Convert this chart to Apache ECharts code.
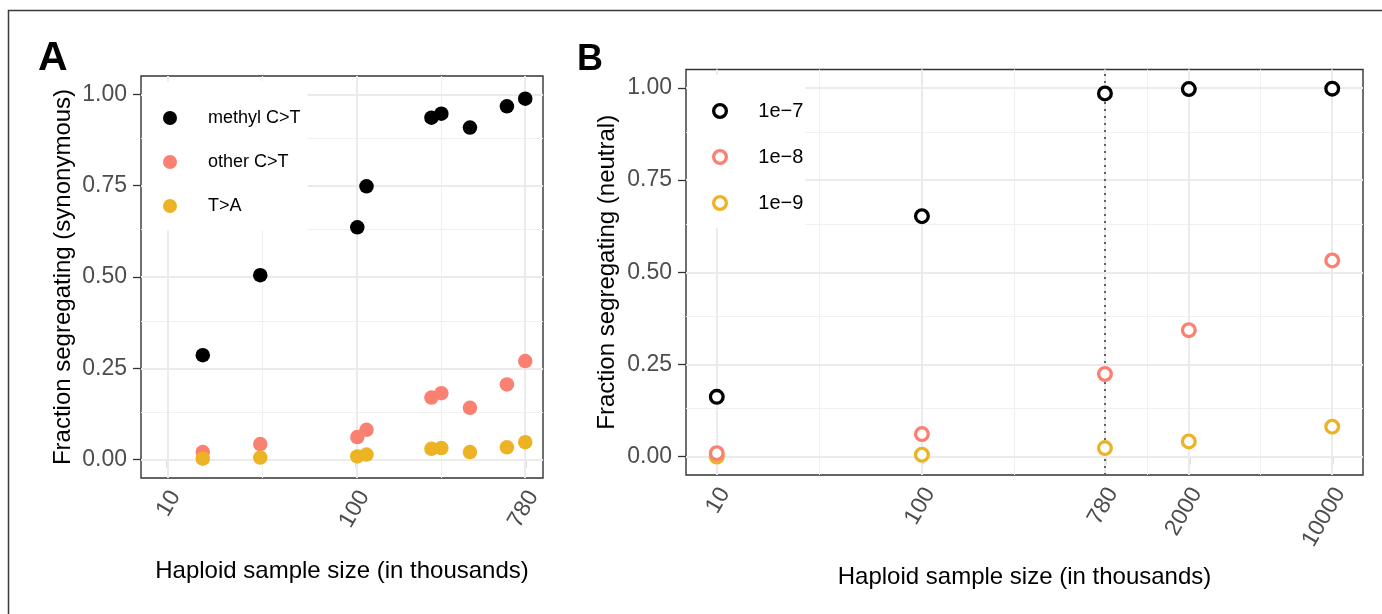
<!doctype html>
<html>
<head>
    <meta charset="utf-8">
    <title>Fraction segregating vs haploid sample size</title>
    <style>
        html, body {
            margin: 0;
            padding: 0;
            background: #fff;
        }
        #main {
            width: 1382px;
            height: 614px;
        }
    </style>
</head>
<body>
<div id="main"></div>
<script type="text/javascript" src="https://cdn.jsdelivr.net/npm/echarts@6/dist/echarts.min.js"></script>
<script type="text/javascript">
    // panel A: synonymous sites, sample size in thousands
    var sizesA   = [15.4, 31, 101, 113, 249, 281, 398, 624, 780];
    var methylCT = [0.286, 0.505, 0.636, 0.748, 0.936, 0.947, 0.909, 0.967, 0.988];
    var otherCT  = [0.021, 0.043, 0.062, 0.082, 0.170, 0.182, 0.142, 0.206, 0.270];
    var tToA     = [0.003, 0.006, 0.009, 0.014, 0.030, 0.032, 0.021, 0.034, 0.048];

    // panel B: neutral sites, by mutation rate
    var sizesB = [10, 100, 780, 2000, 10000];
    var mu7    = [0.162, 0.652, 0.985, 0.997, 0.998];
    var mu8    = [0.009, 0.061, 0.224, 0.343, 0.532];
    var mu9    = [0.000, 0.005, 0.023, 0.041, 0.081];

    var xTicksA = [10, 100, 780];
    var xTicksB = [10, 100, 780, 2000, 10000];
    var yTicks  = [0, 0.25, 0.5, 0.75, 1];
    var refSize = 780;   // dotted line in B

    var FONT = '"Liberation Sans", Arial, Helvetica, sans-serif';
    var C_BLACK = '#000000', C_SALMON = '#FA8072', C_GOLD = '#ECB324';

    var log10 = function (v) { return Math.log10(v); };

    // ggplot-like minor breaks: midpoints between majors
    function mids(arr) {
        var out = [];
        for (var i = 1; i < arr.length; i++) out.push((arr[i - 1] + arr[i]) / 2);
        return out;
    }

    function gridLines(xMajor, yMajor) {
        var lines = [];
        var major = {color: '#EBEBEB', width: 2, type: 'solid'};
        var minor = {color: '#F0F0F0', width: 1, type: 'solid'};
        mids(yMajor).forEach(function (v) { lines.push({yAxis: v, lineStyle: minor}); });
        mids(xMajor).forEach(function (v) { lines.push({xAxis: v, lineStyle: minor}); });
        yMajor.forEach(function (v) { lines.push({yAxis: v, lineStyle: major}); });
        xMajor.forEach(function (v) { lines.push({xAxis: v, lineStyle: major}); });
        return lines;
    }

    function pts(xs, ys) {
        return xs.map(function (x, i) { return [log10(x), ys[i]]; });
    }

    function xAxisCfg(idx, ticks, min, max, gap) {
        var vals = ticks.map(log10);
        return {
            gridIndex: idx, type: 'value', min: min, max: max,
            axisLine: {show: false},
            splitLine: {show: false},
            axisTick: {show: true, length: 8, customValues: vals,
                lineStyle: {color: '#333', width: 1.3}},
            axisLabel: {
                customValues: vals, rotate: 60, margin: 10,
                verticalAlign: 'top', lineHeight: 18,
                fontSize: 23, color: '#4d4d4d', fontFamily: FONT,
                formatter: function (v) { return String(Math.round(Math.pow(10, v))); }
            },
            name: 'Haploid sample size (in thousands)',
            nameLocation: 'middle', nameGap: gap,
            nameTextStyle: {fontSize: 24, color: '#000', fontFamily: FONT}
        };
    }

    function yAxisCfg(idx, name, gap) {
        return {
            gridIndex: idx, type: 'value', min: -0.05, max: 1.05,
            axisLine: {show: false},
            splitLine: {show: false},
            axisTick: {show: true, length: 8, customValues: yTicks,
                lineStyle: {color: '#333', width: 1.3}},
            axisLabel: {
                customValues: yTicks, margin: 14,
                fontSize: 23, color: '#4d4d4d', fontFamily: FONT,
                formatter: function (v) { return v.toFixed(2); }
            },
            name: name, nameLocation: 'middle', nameGap: gap, nameRotate: 90,
            nameTextStyle: {fontSize: 24, color: '#000', fontFamily: FONT}
        };
    }

    function ringSeries(name, color, ys, z) {
        return {
            name: name, type: 'scatter', xAxisIndex: 1, yAxisIndex: 1, z: z,
            symbol: 'circle', symbolSize: 12.7,
            itemStyle: {color: '#fff', borderColor: color, borderWidth: 3.3, opacity: 1},
            data: pts(sizesB, ys)
        };
    }

    var xA = xTicksA.map(log10), xB = xTicksB.map(log10);

    var chart = echarts.init(document.getElementById('main'));
    var option = {
        animation: false,
        backgroundColor: '#fff',
        textStyle: {fontFamily: FONT},
        graphic: [
            {type: 'rect', silent: true, z: 0,
                shape: {x: 8.5, y: 10.5, width: 2000, height: 2000},
                style: {fill: 'none', stroke: '#3a3a3a', lineWidth: 1.5}},
            {type: 'text', left: 38, top: 38,
                style: {text: 'A', fill: '#000', font: 'bold 41px ' + FONT}},
            {type: 'text', left: 577, top: 42,
                style: {text: 'B', fill: '#000', font: 'bold 36px ' + FONT}}
        ],
        grid: [
            {left: 141, top: 76, width: 402, height: 402,
                show: true, borderColor: '#333', borderWidth: 1.4, backgroundColor: '#fff'},
            {left: 686, top: 69.5, width: 677, height: 405.5,
                show: true, borderColor: '#333', borderWidth: 1.4, backgroundColor: '#fff'}
        ],
        xAxis: [
            xAxisCfg(0, xTicksA, 0.861, 2.986, 81),
            xAxisCfg(1, xTicksB, 0.85, 4.15, 90)
        ],
        yAxis: [
            yAxisCfg(0, 'Fraction segregating (synonymous)', 66),
            yAxisCfg(1, 'Fraction segregating (neutral)', 67)
        ],
        legend: [
            {
                data: ['methyl C>T', 'other C>T', 'T>A'],
                orient: 'vertical', left: 142, top: 82, z: 6,
                padding: [27, 7, 15, 21],
                backgroundColor: '#fff',
                itemWidth: 14, itemHeight: 14, itemGap: 26,
                selectedMode: false,
                formatter: '{t|{name}}',
                textStyle: {rich: {t: {fontSize: 18, lineHeight: 20, color: '#000',
                    fontFamily: FONT, padding: [0, 0, 0, 26]}}}
            },
            {
                data: ['1e\u22127', '1e\u22128', '1e\u22129'],
                orient: 'vertical', left: 687, top: 75, z: 6,
                padding: [26, 2, 15, 25],
                backgroundColor: '#fff',
                itemWidth: 12.7, itemHeight: 12.7, itemGap: 26,
                itemStyle: {borderWidth: 3.3},
                selectedMode: false,
                formatter: '{t|{name}}',
                textStyle: {rich: {t: {fontSize: 20, lineHeight: 20, color: '#000',
                    fontFamily: FONT, padding: [0, 0, 0, 27]}}}
            }
        ],
        series: [
            {type: 'scatter', xAxisIndex: 0, yAxisIndex: 0, z: 1, data: [], silent: true,
                markLine: {silent: true, z: 1, symbol: ['none', 'none'], label: {show: false},
                    data: gridLines(xA, yTicks)}},
            {type: 'scatter', xAxisIndex: 1, yAxisIndex: 1, z: 1, data: [], silent: true,
                markLine: {silent: true, z: 1, symbol: ['none', 'none'], label: {show: false},
                    data: gridLines(xB, yTicks).concat([
                        {xAxis: log10(refSize), lineStyle: {color: '#555', width: 1.8, type: [2, 5]}}
                    ])}},

            {name: 'methyl C>T', type: 'scatter', xAxisIndex: 0, yAxisIndex: 0, z: 3,
                symbol: 'circle', symbolSize: 14.5, itemStyle: {color: C_BLACK, opacity: 1},
                data: pts(sizesA, methylCT)},
            {name: 'other C>T', type: 'scatter', xAxisIndex: 0, yAxisIndex: 0, z: 4,
                symbol: 'circle', symbolSize: 14.5, itemStyle: {color: C_SALMON, opacity: 1},
                data: pts(sizesA, otherCT)},
            {name: 'T>A', type: 'scatter', xAxisIndex: 0, yAxisIndex: 0, z: 5,
                symbol: 'circle', symbolSize: 14.5, itemStyle: {color: C_GOLD, opacity: 1},
                data: pts(sizesA, tToA)},

            ringSeries('1e\u22127', C_BLACK, mu7, 5),
            ringSeries('1e\u22128', C_SALMON, mu8, 4),
            ringSeries('1e\u22129', C_GOLD, mu9, 3)
        ]
    };
    chart.setOption(option);
</script>
</body>
</html>
